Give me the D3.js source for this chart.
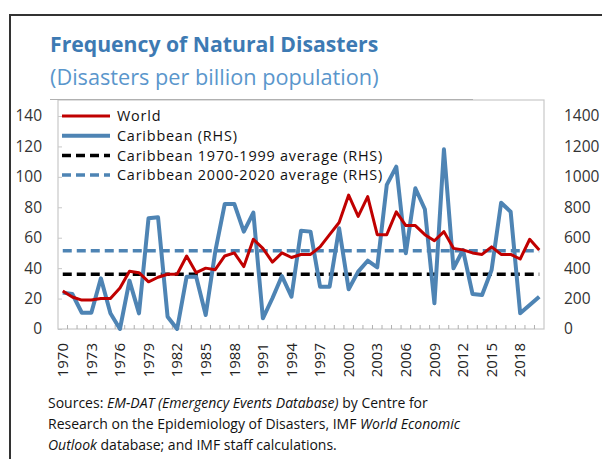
<!DOCTYPE html>
<html><head><meta charset="utf-8">
<script src="https://cdn.jsdelivr.net/npm/d3@7"></script>
<style>body{margin:0;background:#fff}svg{display:block}</style>
</head><body>
<svg id="c" width="602" height="459"></svg>
<script>
const years = d3.range(1970, 2021);
const worldValues = [25,21,19,19,20,20,27,38,37,31,34,36,36,48,37,40,39,48,50,41,59,53,44,50,47,49,49,54,62,70,88,74,87,62,62,77,68,68,62,58,64,53,52,50,49,54,49,49,46,59,52];
const caribbeanValues = [239,230,107,107,333,103,0,318,103,728,734,81,0,344,344,92,508,822,822,640,765,70,202,348,212,646,640,278,278,662,261,377,449,405,947,1067,498,925,787,169,1181,399,519,230,224,388,830,771,103,158,212];
const avg1970_1999 = 360;
const avg2000_2020 = 515;
const leftTicks = [0,20,40,60,80,100,120,140];
const rightTicks = [0,200,400,600,800,1000,1200,1400];
const labelYears = d3.range(1970, 2021, 3);
const legendLabels = ["World","Caribbean (RHS)","Caribbean 1970-1999 average (RHS)","Caribbean 2000-2020 average (RHS)"];

const FONT = "'Open Sans', sans-serif";
const svg = d3.select("#c");
const L = 58, R = 544, T = 100, B = 329;
const x = d3.scaleBand().domain(years).range([L, R]).padding(0);
const xc = d => x(d) + x.bandwidth()/2;
const yL = d3.scaleLinear().domain([0,140]).range([B,116]);
const yR = d3.scaleLinear().domain([0,1400]).range([B,116]);

// frame
svg.append("path").attr("d","M10,459V15H602").attr("fill","none").attr("stroke","#333").attr("stroke-width",2);
// title
svg.append("text").attr("x",50).attr("y",52).attr("font-family",FONT).attr("font-weight","bold").attr("font-size",21.2).attr("fill","#3D7AB3").text("Frequency of Natural Disasters");
svg.append("text").attr("x",50).attr("y",85).attr("font-family",FONT).attr("font-size",21.7).attr("fill","#5A96CC").text("(Disasters per billion population)");

// plot box
svg.append("rect").attr("x",L).attr("y",T).attr("width",R-L).attr("height",B-T).attr("fill","none").attr("stroke","#c8c8c8").attr("stroke-width",1.2);
svg.append("line").attr("x1",50).attr("x2",473).attr("y1",99.5).attr("y2",99.5).attr("stroke","#b0b0b0").attr("stroke-width",1.2);

// left axis labels
const gl = svg.append("g").attr("transform",`translate(${L},0)`)
  .call(d3.axisLeft(yL).tickValues(leftTicks).tickSize(-4).tickPadding(16));
gl.select(".domain").remove();
gl.selectAll("line").attr("stroke","#c8c8c8");
gl.selectAll("text").attr("font-family",FONT).attr("font-size",15.5).attr("fill","#333");

const gr = svg.append("g").attr("transform",`translate(${R},0)`)
  .call(d3.axisRight(yR).tickValues(rightTicks).tickFormat(d3.format("d")).tickSize(0).tickPadding(20));
gr.select(".domain").remove();
gr.selectAll("text").attr("font-family",FONT).attr("font-size",15.5).attr("fill","#333");

// x axis
const gx = svg.append("g").attr("transform",`translate(0,${B})`);
const bounds = years.slice(1).map(d => x(d));
gx.selectAll("line.t").data(bounds).join("line").attr("x1",d=>d).attr("x2",d=>d).attr("y1",0).attr("y2",-4).attr("stroke","#b0b0b0");
gx.selectAll("text").data(labelYears).join("text")
  .attr("transform", d => `translate(${xc(d)},14) rotate(-90)`)
  .attr("text-anchor","end").attr("dy","0.35em")
  .attr("font-family",FONT).attr("font-size",15).attr("fill","#222").text(d=>d);

// averages
svg.append("line").attr("x1",xc(1970)).attr("x2",xc(2020)).attr("y1",yR(avg1970_1999)).attr("y2",yR(avg1970_1999))
  .attr("stroke","#000").attr("stroke-width",3.5).attr("stroke-dasharray","9,5");
svg.append("line").attr("x1",xc(1970)).attr("x2",xc(2020)).attr("y1",yR(avg2000_2020)).attr("y2",yR(avg2000_2020))
  .attr("stroke","#4E84B4").attr("stroke-width",3.5).attr("stroke-dasharray","9,5");

// series
svg.append("path").datum(years.map((d,i)=>[d,caribbeanValues[i]]))
  .attr("fill","none").attr("stroke","#4E84B4").attr("stroke-width",4).attr("stroke-linejoin","round")
  .attr("d", d3.line().x(d=>xc(d[0])).y(d=>yR(d[1])));
svg.append("path").datum(years.map((d,i)=>[d,worldValues[i]]))
  .attr("fill","none").attr("stroke","#C00000").attr("stroke-width",3).attr("stroke-linejoin","round")
  .attr("d", d3.line().x(d=>xc(d[0])).y(d=>yL(d[1])));

// legend
const lstyles = [
  {c:"#C00000",w:3,da:null},{c:"#4E84B4",w:4,da:null},{c:"#000",w:3.5,da:"9,5"},{c:"#4E84B4",w:3.5,da:"9,5"}];
const lg = svg.append("g");
legendLabels.forEach((t,i)=>{
  const yy = 116 + i*19.7;
  lg.append("line").attr("x1",62).attr("x2",110).attr("y1",yy).attr("y2",yy)
    .attr("stroke",lstyles[i].c).attr("stroke-width",lstyles[i].w).attr("stroke-dasharray",lstyles[i].da);
  lg.append("text").attr("x",117).attr("y",yy+5.3).attr("font-family",FONT).attr("font-size",14.4)
    .attr("letter-spacing",0.8).attr("fill","#111").text(t);
});

// sources
const src = svg.append("text").attr("font-family",FONT).attr("font-size",14).attr("fill","#111");
const l1 = src.append("tspan").attr("x",48).attr("y",408);
l1.append("tspan").text("Sources: ");
l1.append("tspan").attr("font-style","italic").text("EM-DAT (Emergency Events Database)");
l1.append("tspan").text(" by Centre for");
const l2 = src.append("tspan").attr("x",48).attr("y",429);
l2.append("tspan").text("Research on the Epidemiology of Disasters, IMF ");
l2.append("tspan").attr("font-style","italic").text("World Economic");
const l3 = src.append("tspan").attr("x",48).attr("y",450);
l3.append("tspan").attr("font-style","italic").text("Outlook");
l3.append("tspan").text(" database; and IMF staff calculations.");
</script>
</body></html>
